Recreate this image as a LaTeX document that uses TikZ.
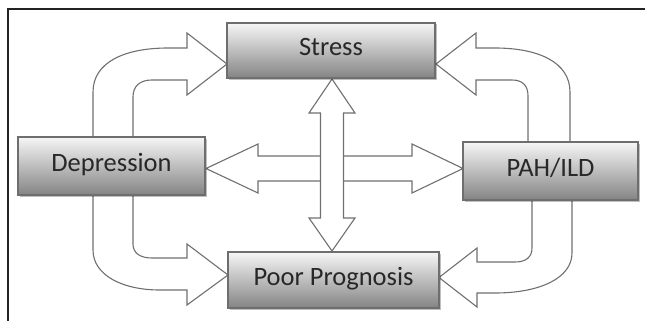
\documentclass[tikz,border=0pt]{standalone}
\usepackage{fontspec}
\setmainfont{Carlito}
\usetikzlibrary{shadows}
\definecolor{arrline}{RGB}{112,112,112}
\definecolor{boxline}{RGB}{110,110,110}
\definecolor{boxtop}{RGB}{246,246,246}
\definecolor{boxbot}{RGB}{132,132,132}
\definecolor{txt}{RGB}{40,40,40}
\definecolor{framec}{RGB}{35,35,35}
\begin{document}
\begin{tikzpicture}[x=1pt,y=-1pt,
  box/.style={draw=boxline, line width=1.1pt, top color=boxtop, bottom color=boxbot,
    drop shadow={shadow xshift=1.5pt, shadow yshift=-1.5pt, fill=black, opacity=0.25},
    inner sep=0pt, text height=16pt, text depth=6pt, text=txt,
    font=\fontsize{26.5}{30}\selectfont},
  blk/.style={draw=arrline, line width=1.1pt, fill=white, line join=miter},
  framel/.style={draw=framec, line width=1.4pt}]
\useasboundingbox (0,0) rectangle (645,321);
\draw[framel] (645,9) -- (8,9) -- (8,321);
% block arrows
\draw[blk] (93,137) -- (93,92) .. controls (93,62) and (125,48) .. (168,48) -- (187,48) -- (187,33) -- (227,64) -- (187,95) -- (187,80) -- (152,80) .. controls (140,80) and (133,86) .. (133,97) -- (133,137) -- cycle;
\draw[blk] (570,142) -- (570,92) .. controls (570,62) and (538,48) .. (495,48) -- (476,48) -- (476,33) -- (436,64) -- (476,95) -- (476,80) -- (512,80) .. controls (523,80) and (528,86) .. (528,96) -- (528,142) -- cycle;
\draw[blk] (93,195) -- (93,250) .. controls (93,275) and (122,290) .. (160,290) -- (187,290) -- (187,305) -- (228,275) -- (187,244) -- (187,258) -- (152,258) .. controls (140,258) and (133,253) .. (133,244) -- (133,195) -- cycle;
\draw[blk] (572,200) -- (572,253) .. controls (572,278) and (540,293) .. (495,293) -- (477,293) -- (477,307) -- (439,277.5) -- (477,248) -- (477,262) -- (515,262) .. controls (526,262) and (532,257) .. (532,248) -- (532,200) -- cycle;
\draw[blk] (206,168.5) -- (258,144) -- (258,156) -- (412,156) -- (412,144) -- (463,168.5) -- (412,193) -- (412,181) -- (258,181) -- (258,193) -- cycle;
\draw[blk] (332,79) -- (355,113) -- (343.5,113) -- (343.5,218) -- (355,218) -- (332,251) -- (309,218) -- (320.5,218) -- (320.5,113) -- (309,113) -- cycle;
% boxes
\node[box, minimum width=208pt, minimum height=55pt] (stress) at (331,50.5) {Stress};
\node[box, minimum width=187pt, minimum height=58pt] (dep) at (111.5,166) {Depression};
\node[box, minimum width=175pt, minimum height=58pt] (pah) at (550.5,171) {PAH/ILD};
\node[box, minimum width=211pt, minimum height=56pt] (poor) at (333.5,280) {Poor Prognosis};
\end{tikzpicture}
\end{document}
